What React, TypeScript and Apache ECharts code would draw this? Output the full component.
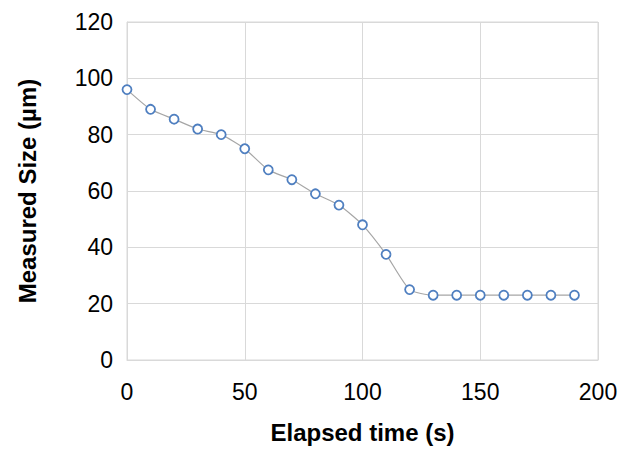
import { useEffect, useRef } from "react";
import * as echarts from "echarts";

const times = [0, 10, 20, 30, 40, 50, 60, 70, 80, 90, 100, 110, 120, 130, 140, 150, 160, 170, 180, 190];
const sizes = [96, 89, 85.5, 82, 80, 75, 67.5, 64, 59, 55, 48, 37.5, 25, 23, 23, 23, 23, 23, 23, 23];

export default function App() {
  const ref = useRef<HTMLDivElement>(null);

  useEffect(() => {
    if (!ref.current) return;
    const chart = echarts.init(ref.current, undefined, { renderer: "svg" });
    const font = "Liberation Sans, Arial, sans-serif";
    chart.setOption({
      animation: false,
      grid: { left: 127, right: 27, top: 22, bottom: 90, show: true, borderColor: "#d9d9d9" },
      xAxis: {
        type: "value", min: 0, max: 200, interval: 50,
        name: "Elapsed time (s)", nameLocation: "middle", nameGap: 60,
        nameTextStyle: { fontFamily: font, fontSize: 24, fontWeight: "bold", color: "#000" },
        axisLine: { show: true, lineStyle: { color: "#d9d9d9" } },
        axisTick: { show: false },
        axisLabel: { fontFamily: font, fontSize: 23, color: "#000", margin: 20 },
        splitLine: { lineStyle: { color: "#d9d9d9" } },
      },
      yAxis: {
        type: "value", min: 0, max: 120, interval: 20,
        name: "Measured Size (µm)", nameLocation: "middle", nameGap: 88,
        nameTextStyle: { fontFamily: font, fontSize: 24, fontWeight: "bold", color: "#000" },
        axisLine: { show: true, lineStyle: { color: "#d9d9d9" } },
        axisTick: { show: false },
        axisLabel: { fontFamily: font, fontSize: 23, color: "#000", margin: 14 },
        splitLine: { lineStyle: { color: "#d9d9d9" } },
      },
      series: [{
        type: "line",
        data: times.map((t, i) => [t, sizes[i]]),
        smooth: 0.2,
        symbol: "circle",
        symbolSize: 9,
        lineStyle: { color: "#a6a6a6", width: 1.2 },
        itemStyle: { color: "#fff", borderColor: "#4f7fc0", borderWidth: 1.8 },
      }],
    });
    return () => chart.dispose();
  }, []);

  return <div ref={ref} style={{ position: "absolute", left: 0, top: 0, width: 625, height: 450 }} />;
}
